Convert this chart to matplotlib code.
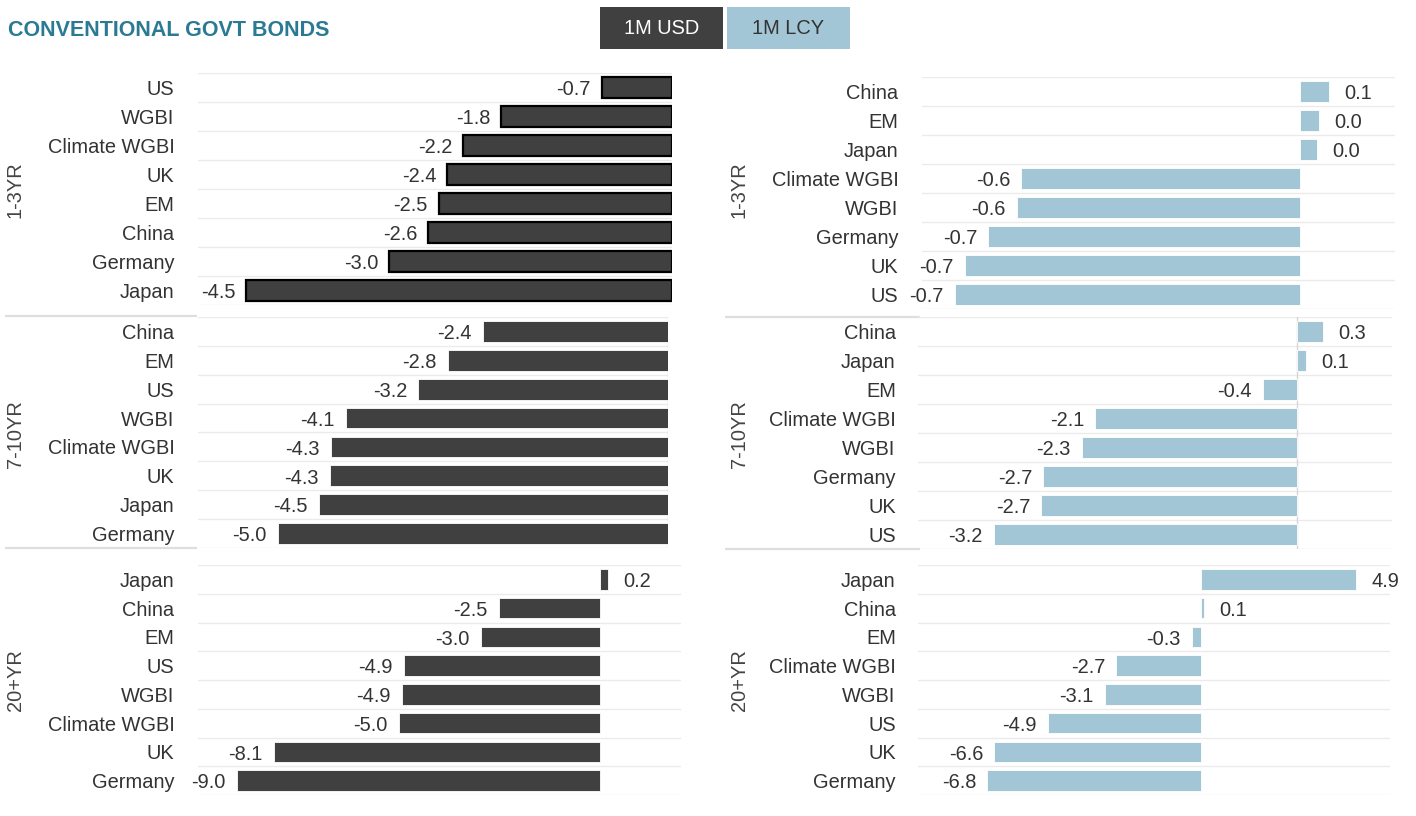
import matplotlib
matplotlib.use("Agg")
import matplotlib.pyplot as plt
from matplotlib.patches import Rectangle

plt.rcParams['font.family'] = ['Liberation Sans', 'DejaVu Sans']

# ---- data: 1M returns (%), conventional government bonds ----
usd_13_cats = ["US", "WGBI", "Climate WGBI", "UK", "EM", "China", "Germany", "Japan"]
usd_13_vals = [-0.74, -1.80, -2.20, -2.37, -2.46, -2.57, -2.98, -4.49]

usd_710_cats = ["China", "EM", "US", "WGBI", "Climate WGBI", "UK", "Japan", "Germany"]
usd_710_vals = [-2.36, -2.81, -3.19, -4.11, -4.30, -4.32, -4.46, -4.98]

usd_20_cats = ["Japan", "China", "EM", "US", "WGBI", "Climate WGBI", "UK", "Germany"]
usd_20_vals = [0.18, -2.52, -2.97, -4.88, -4.93, -5.01, -8.11, -9.03]

lcy_13_cats = ["China", "EM", "Japan", "Climate WGBI", "WGBI", "Germany", "UK", "US"]
lcy_13_vals = [0.06, 0.04, 0.035, -0.59, -0.60, -0.66, -0.71, -0.73]

lcy_710_cats = ["China", "Japan", "EM", "Climate WGBI", "WGBI", "Germany", "UK", "US"]
lcy_710_vals = [0.27, 0.09, -0.36, -2.13, -2.27, -2.68, -2.70, -3.20]

lcy_20_cats = ["Japan", "China", "EM", "Climate WGBI", "WGBI", "US", "UK", "Germany"]
lcy_20_vals = [4.93, 0.10, -0.29, -2.70, -3.07, -4.87, -6.57, -6.80]

maturities = ["1-3YR", "7-10YR", "20+YR"]
title = "CONVENTIONAL GOVT BONDS"
buttons = ["1M USD", "1M LCY"]

# ---- styling ----
W, H = 1416, 816
DARK = "#404040"
BLUE = "#a3c6d6"
TEXT = "#333333"
GRID = "#ebebeb"
SEP = "#dedede"
TITLE_C = "#2b7a93"
FS = 14.4

fig = plt.figure(figsize=(W / 100, H / 100), dpi=100)
fig.patch.set_facecolor("white")


def px_axes(x0, y0, x1, y1):
    return fig.add_axes([x0 / W, 1 - y1 / H, (x1 - x0) / W, (y1 - y0) / H])


def panel(box, cats, vals, xlim, color, outline=False, zero_line=False, pad=17):
    ax = px_axes(*box)
    n = len(cats)
    ys = list(range(n))
    ax.barh(ys, vals, height=0.72, color=color,
            edgecolor="black" if outline else "white",
            linewidth=1.6 if outline else 0.6, zorder=3)
    for b in [k - 0.5 for k in range(n + 1)]:
        ax.axhline(b, color=GRID, lw=1.0, zorder=1)
    if zero_line:
        ax.axvline(0, color="#d6d6d6", lw=1.0, zorder=2)
    for y, v in zip(ys, vals):
        if v < 0:
            ax.annotate(f"{v:.1f}", xy=(v, y), xytext=(-8, -1.6), textcoords="offset points",
                        ha="right", va="center", fontsize=FS, color=TEXT)
        else:
            ax.annotate(f"{v:.1f}", xy=(v, y), xytext=(11, -1.6), textcoords="offset points",
                        ha="left", va="center", fontsize=FS, color=TEXT)
    ax.set_xlim(*xlim)
    ax.set_ylim(n - 0.5, -0.5)
    ax.set_yticks(ys)
    ax.set_yticklabels(cats, fontsize=FS, color=TEXT)
    ax.tick_params(axis="y", length=0, pad=pad)
    ax.set_xticks([])
    for s in ax.spines.values():
        s.set_visible(False)
    ax.patch.set_alpha(0)
    return ax


# left column: USD
panel((198, 73, 672, 305), usd_13_cats, usd_13_vals, (-5, 0), DARK, outline=True)
panel((198, 317, 668, 548), usd_710_cats, usd_710_vals, (-6, 0), DARK, zero_line=True)
panel((198, 565, 681, 795), usd_20_cats, usd_20_vals, (-10, 2), DARK)

# right column: LCY
panel((922, 77, 1395, 309), lcy_13_cats, lcy_13_vals, (-0.8, 0.2), BLUE)
panel((918, 317, 1392, 549), lcy_710_cats, lcy_710_vals, (-4, 1), BLUE, zero_line=True, pad=16)
panel((918, 565, 1390, 795), lcy_20_cats, lcy_20_vals, (-9, 6), BLUE, pad=16)

# overlay for header, separators and section labels (pixel coordinates)
ov = fig.add_axes([0, 0, 1, 1], zorder=-1)
ov.set_xlim(0, W)
ov.set_ylim(H, 0)
ov.axis("off")

for y in (316, 548):
    ov.plot([5, 197], [y, y], color=SEP, lw=1.6, solid_capstyle="butt")
    ov.plot([725, 920], [y + 1, y + 1], color=SEP, lw=1.6, solid_capstyle="butt")

sec_y = [190, 434, 680]
for lab, y in zip(maturities, sec_y):
    fig.text(15 / W, 1 - y / H, lab, rotation=90, ha="center", va="center",
             fontsize=FS, color="#444444")
    fig.text(739 / W, 1 - y / H, lab, rotation=90, ha="center", va="center",
             fontsize=FS, color="#444444")

fig.text(8 / W, 1 - 31 / H, title, ha="left", va="center", fontsize=15.5,
         fontweight="bold", color=TITLE_C)

btn_boxes = [(600, 723, DARK, "white"), (727, 850, BLUE, TEXT)]
hdr = fig.add_axes([0, 0, 1, 1], zorder=5)
hdr.set_xlim(0, W)
hdr.set_ylim(H, 0)
hdr.axis("off")
for lab, (x0, x1, fc, tc) in zip(buttons, btn_boxes):
    hdr.add_patch(Rectangle((x0, 7), x1 - x0, 42, facecolor=fc, edgecolor="none"))
    hdr.text((x0 + x1) / 2, 28, lab, ha="center", va="center", fontsize=FS, color=tc)

fig.savefig("out.png", dpi=100)
